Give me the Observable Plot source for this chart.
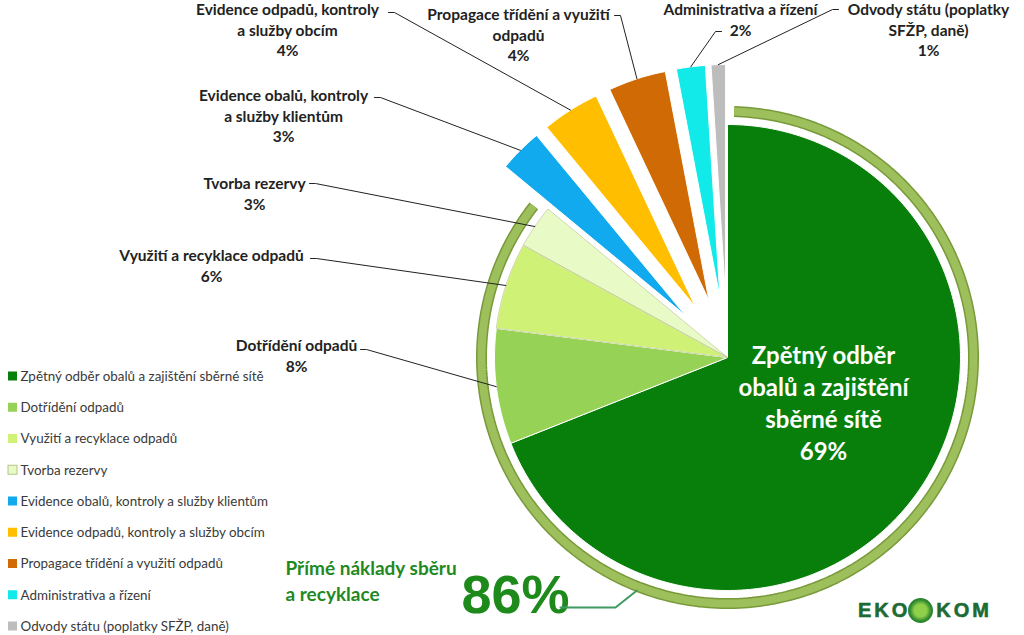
<!DOCTYPE html>
<html><head><meta charset="utf-8">
<script src="https://cdn.jsdelivr.net/npm/d3@7"></script>
<script src="https://cdn.jsdelivr.net/npm/@observablehq/plot@0.6"></script>
<style>
body{margin:0;background:#fff;}
#wrap{position:relative;width:1024px;height:635px;overflow:hidden;}
#logo{position:absolute;left:858px;top:598px;font-family:"Liberation Sans",Arial,sans-serif;font-weight:900;font-size:20px;letter-spacing:3px;color:#1d6b34;display:flex;align-items:center;-webkit-text-stroke:0.6px #1d6b34;}
#logo .c{display:inline-block;width:25px;height:25px;border-radius:50%;background:radial-gradient(circle,#8fcf4a 0 35%,#2f8a2f 60%,#1d6b34 100%);margin:0 3px 0 0;}
</style></head><body><div id="wrap"><div id="logo">EK<span style="letter-spacing:1px">O</span><span class="c"></span>KOM</div></div>
<script>
// ---- data ----
const categories = [
  "Zpětný odběr obalů a zajištění sběrné sítě",
  "Dotřídění odpadů",
  "Využití a recyklace odpadů",
  "Tvorba rezervy",
  "Evidence obalů, kontroly a služby klientům",
  "Evidence odpadů, kontroly a služby obcím",
  "Propagace třídění a využití odpadů",
  "Administrativa a řízení",
  "Odvody státu (poplatky SFŽP, daně)"
];
const values = [69, 8, 6, 3, 3, 4, 4, 2, 1];
const labelLines = [
  "Zpětný odběr\nobalů a zajištění\nsběrné sítě",
  "Dotřídění odpadů",
  "Využití a recyklace odpadů",
  "Tvorba rezervy",
  "Evidence obalů, kontroly\na služby klientům",
  "Evidence odpadů, kontroly\na služby obcím",
  "Propagace třídění a využití\nodpadů",
  "Administrativa a řízení",
  "Odvody státu (poplatky\nSFŽP, daně)"
];
const directCount = 4; // first four categories form the direct costs ring
const directLabel = "Přímé náklady sběru\na recyklace";
const directValue = 86;

// ---- styles / layout ----
const colors = ["#077f0a", "#96d255", "#cff276", "#e8fbc6", "#12aaee", "#ffbf00", "#d06a04", "#12eaea", "#bdbdbd"];
const exploded = [false, false, false, false, true, true, true, true, true];
const W = 1024, H = 635, cx = 727, cy = 357, R = 233, explode = 60, ringR = 246;
// label anchors: [text center x, first line y, leader start x, leader start y]
const labelLayout = [
  null,
  [296, 343, 360, 349],
  [211, 253, 310, 258],
  [254, 181, 309, 183],
  [283, 93, 374, 97],
  [287, 7, 388, 12],
  [518, 12, 614, 15],
  [740, 7, 721, 31],
  [928, 7, 838, 9]
];

const pie = d3.pie().sort(null).value(d => d)(values);
const pt = (ox, oy, r, a) => ({x: ox + r * Math.sin(a), y: oy - r * Math.cos(a)});

const slices = [];
const sliceInfo = pie.map((p, i) => {
  const mid = (p.startAngle + p.endAngle) / 2;
  const off = exploded[i] ? explode : 0;
  const o = pt(cx, cy, off, mid);
  const name = categories[i];
  const n = Math.max(2, Math.ceil((p.endAngle - p.startAngle) / (Math.PI / 180)));
  slices.push({name, x: o.x, y: o.y});
  for (let k = 0; k <= n; k++) {
    const a = p.startAngle + (p.endAngle - p.startAngle) * k / n;
    slices.push({name, ...pt(o.x, o.y, R, a)});
  }
  slices.push({name, x: o.x, y: o.y});
  return {o, mid, outer: pt(o.x, o.y, R, mid)};
});

// ring around direct costs
const ringEnd = pie[directCount - 1].endAngle;
const gap = 0.027;
const ring = d3.range(0, 301).map(k => pt(cx, cy, ringR, gap + (ringEnd - 2 * gap) * k / 300));

// leaders
const leaders = [];
labelLayout.forEach((l, i) => {
  if (!l) return;
  const t = sliceInfo[i].outer;
  const s = Math.sign(t.x - l[2]);
  leaders.push({id: i, x: l[2], y: l[3]}, {id: i, x: l[2] + 6 * s, y: l[3]}, {id: i, ...t});
});
const outerLabels = labelLayout.map((l, i) => l ? {x: l[0], y: l[1], text: labelLines[i] + "\n" + values[i] + "%"} : null).filter(d => d);

// 86% leader: from text to ring
const ringPt = pt(cx, cy, ringR + 4, Math.PI * 1.118);
const directLeader = [{x: 560, y: 607}, {x: 615, y: 607}, ringPt];

const legendRows = categories.map((c, i) => ({name: c, i, y: 376 + i * 31.25}));

const font = "Lato, 'Open Sans', sans-serif";
const chart = Plot.plot({
  width: W, height: H, margin: 0,
  x: {domain: [0, W], range: [0, W], axis: null},
  y: {domain: [0, H], range: [0, H], axis: null},
  color: {domain: categories, range: colors},
  style: {background: "white", fontFamily: font},
  marks: [
    Plot.line(ring, {x: "x", y: "y", stroke: "#789a3a", strokeWidth: 11, strokeLinecap: "butt", strokeLinejoin: "miter"}),
    Plot.line(ring, {x: "x", y: "y", stroke: "#9dbf5c", strokeWidth: 8, strokeLinecap: "butt", strokeLinejoin: "miter"}),
    Plot.line(slices, {x: "x", y: "y", z: "name", fill: "name", stroke: "white", strokeWidth: 1, curve: "linear"}),
    Plot.line(slices.filter(d => d.name === categories[3] || d.name === categories[2]), {x: "x", y: "y", z: "name", stroke: "#c2cc96", strokeWidth: 0.8}),
    Plot.line(leaders, {x: "x", y: "y", z: "id", stroke: "#222", strokeWidth: 1, strokeLinejoin: "miter"}),
    Plot.text(outerLabels, {x: "x", y: "y", text: "text", fontSize: 15.5, fontWeight: "bold", fill: "#222", lineAnchor: "top", lineHeight: 1.33, textAnchor: "middle", dy: -7}),
    Plot.text([{x: 823, y: 355, text: labelLines[0] + "\n" + values[0] + "%"}], {x: "x", y: "y", text: "text", fontSize: 24, fontWeight: "bold", fill: "white", lineAnchor: "top", lineHeight: 1.33, textAnchor: "middle", dy: -14}),
    Plot.text([{x: 285, y: 568, text: directLabel}], {x: "x", y: "y", text: "text", fontSize: 19, fontWeight: "bold", fill: "#21891f", lineAnchor: "top", lineHeight: 1.33, textAnchor: "start", dy: -11}),
    Plot.text([{x: 515, y: 602, text: directValue + "%"}], {x: "x", y: "y", text: "text", fontSize: 54, fontWeight: "bold", fill: "#1d8a1b", lineAnchor: "bottom", textAnchor: "middle", fontFamily: "'Liberation Sans Narrow', 'Liberation Sans', Arial, sans-serif", dy: 10}),
    Plot.line(directLeader, {x: "x", y: "y", stroke: "#3f9a62", strokeWidth: 2, strokeLinejoin: "miter"}),
    Plot.rect(legendRows, {x1: 8, x2: 17, y1: d => d.y - 4.5, y2: d => d.y + 4.5, fill: "name"}),
    Plot.rect(legendRows.filter(d => d.i === 3), {x1: 8, x2: 17, y1: d => d.y - 4.5, y2: d => d.y + 4.5, stroke: "#b8c48a"}),
    Plot.text(legendRows, {x: 20, y: "y", text: "name", fontSize: 13.4, fill: "#3a3a3a", textAnchor: "start"})
  ]
});
document.getElementById("wrap").prepend(chart);
</script></body></html>
